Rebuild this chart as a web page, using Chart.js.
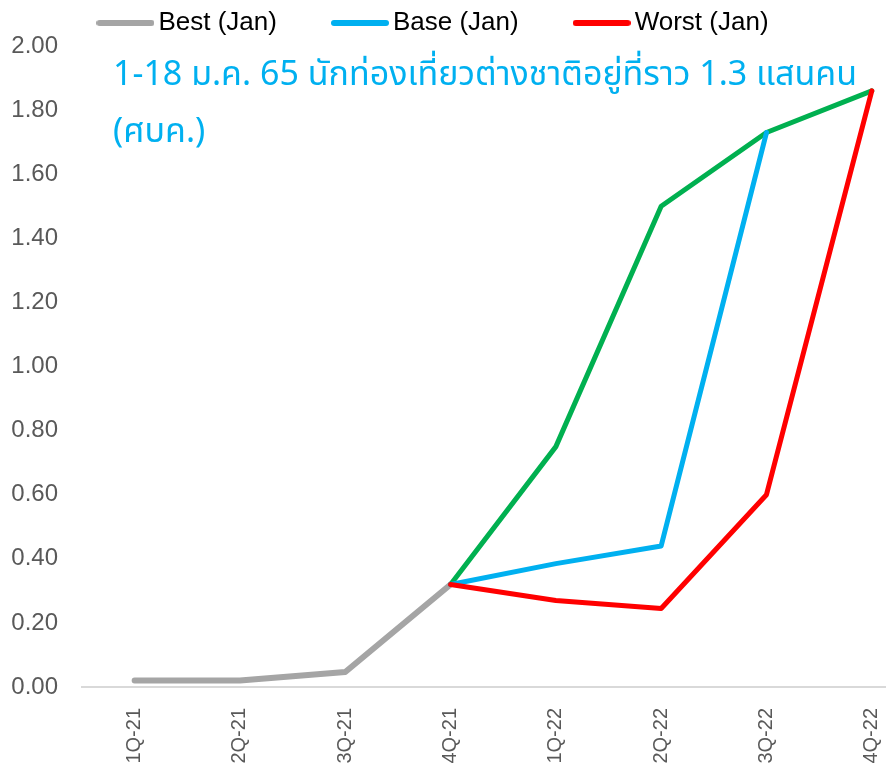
<!DOCTYPE html>
<html>
<head>
<meta charset="utf-8">
<script src="https://cdn.jsdelivr.net/npm/chart.js@4"></script>
<style>
  html, body { margin: 0; padding: 0; background: #fff; }
  #wrap { width: 886px; height: 769px; }
</style>
</head>
<body>
<div id="wrap"><canvas id="chart"></canvas></div>
<script>
// Trimestres
const quarters = ['1Q-21', '2Q-21', '3Q-21', '4Q-21', '1Q-22', '2Q-22', '3Q-22', '4Q-22'];

// Séries (millions)
const actual = [0.02, 0.02, 0.047, 0.32, null, null, null, null];
const bestCase = [null, null, null, 0.32, 0.75, 1.50, 1.73, 1.86];
const baseCase = [null, null, null, 0.32, 0.385, 0.44, 1.73, null];
const worstCase = [null, null, null, 0.32, 0.27, 0.245, 0.60, 1.86];

const yTicks = [0, 0.2, 0.4, 0.6, 0.8, 1.0, 1.2, 1.4, 1.6, 1.8, 2.0];

const noteLines = ['1-18 ม.ค. 65 นักท่องเที่ยวต่างชาติอยู่ที่ราว 1.3 แสนคน', '(ศบค.)'];

const font = '"Liberation Sans", Arial, sans-serif';

// Conversion en points {x, y} pour l'axe linéaire
function toPoints(values) {
    return values.map((v, i) => ({ x: i, y: v }));
}

// Petit trait pour la légende
function legendLine(color) {
    const c = document.createElement('canvas');
    c.width = 58;
    c.height = 8;
    const g = c.getContext('2d');
    g.strokeStyle = color;
    g.lineWidth = 6;
    g.lineCap = 'round';
    g.beginPath();
    g.moveTo(3, 4);
    g.lineTo(55, 4);
    g.stroke();
    return c;
}

function makeSet(label, values, color, width, order) {
    return {
        label: label,
        data: toPoints(values),
        borderColor: color,
        backgroundColor: color,
        borderWidth: width,
        borderCapStyle: 'round',
        borderJoinStyle: 'round',
        pointRadius: 0,
        pointStyle: legendLine(color),
        tension: 0,
        spanGaps: false,
        order: order
    };
}

// Texte de note dessiné sous les lignes
const notePlugin = {
    id: 'note',
    afterLayout(chart) {
        // décale la légende vers la gauche
        chart.legend.left -= 10;
        chart.legend.right -= 10;
    },
    beforeDatasetsDraw(chart) {
        const ctx = chart.ctx;
        ctx.save();
        ctx.fillStyle = '#00B0F0';
        ctx.textBaseline = 'middle';
        ctx.textAlign = 'left';
        const fam = '"Noto Sans Thai", "Noto Sans", sans-serif';
        let size = 30;
        ctx.font = size + 'px ' + fam;
        const w = ctx.measureText(noteLines[0]).width;
        size = Math.min(34, size * 770 / w);
        ctx.font = size + 'px ' + fam;
        ctx.fillText(noteLines[0], 113, 78);
        ctx.fillText(noteLines[1], 113, 135);
        ctx.restore();
    }
};

const ctx = document.getElementById('chart').getContext('2d');

new Chart(ctx, {
    type: 'line',
    data: {
        datasets: [
            makeSet('Best (Jan)', actual, '#A5A5A5', 6, 3),
            makeSet('Base (Jan)', baseCase, '#00B0F0', 5, 1),
            makeSet('Worst (Jan)', worstCase, '#FF0000', 5, 0),
            makeSet('', bestCase, '#00B050', 5, 2)
        ]
    },
    options: {
        responsive: true,
        maintainAspectRatio: false,
        animation: false,
        layout: { padding: { top: -53, right: 0, left: 8, bottom: 0 } },
        plugins: {
            legend: {
                position: 'top',
                maxHeight: 100,
                labels: {
                    filter: item => item.text !== '',
                    sort: (a, b) => a.datasetIndex - b.datasetIndex,
                    usePointStyle: true,
                    pointStyleWidth: 40,
                    boxHeight: 25,
                    padding: 63,
                    color: '#000',
                    font: { family: font, size: 26 }
                }
            },
            tooltip: { enabled: false }
        },
        scales: {
            x: {
                type: 'linear',
                min: -0.5,
                max: 7.135,
                afterBuildTicks: scale => {
                    scale.ticks = quarters.map((q, i) => ({ value: i }));
                },
                afterFit: scale => {
                    scale.height = 82;
                    scale.paddingRight = 0;
                    scale.paddingLeft = 0;
                },
                grid: { display: false },
                border: { display: true, color: '#D9D9D9', width: 2 },
                ticks: {
                    autoSkip: false,
                    minRotation: 90,
                    maxRotation: 90,
                    padding: 13,
                    color: '#595959',
                    font: { family: font, size: 20 },
                    callback: v => quarters[v]
                }
            },
            y: {
                min: 0,
                max: 2,
                afterBuildTicks: scale => {
                    scale.ticks = yTicks.map(v => ({ value: v }));
                },
                afterFit: scale => { scale.width = 74; },
                grid: { display: false },
                border: { display: false },
                ticks: {
                    padding: 16,
                    color: '#595959',
                    font: { family: font, size: 24 },
                    callback: v => v.toFixed(2)
                }
            }
        }
    },
    plugins: [notePlugin]
});
</script>
</body>
</html>
